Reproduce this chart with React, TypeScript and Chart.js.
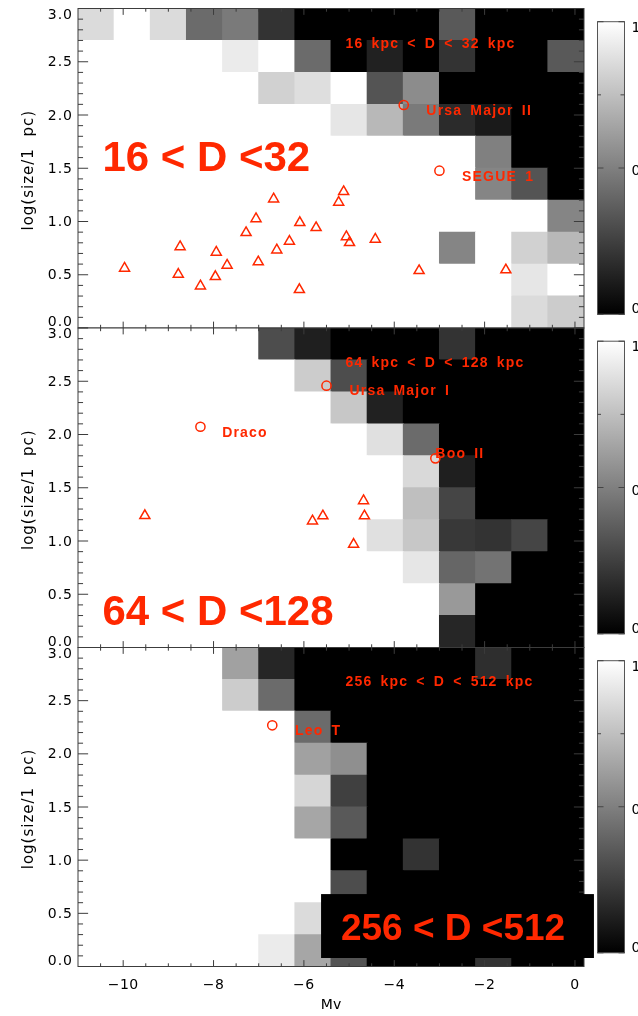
import React, { useEffect, useRef } from 'react';
import { Chart, registerables } from 'chart.js';

Chart.register(...registerables);

// ---------------- data ----------------
// Mv bins (0.8 mag wide) and log(size) bins (0.3 dex wide) of the detection-fraction map
const mvBinCentres = ['-10.6', '-9.8', '-9.0', '-8.2', '-7.4', '-6.6', '-5.8', '-5.0', '-4.2', '-3.4', '-2.6', '-1.8', '-1.0', '-0.2'];
const sizeBinEdges = [0, 0.3, 0.6, 0.9, 1.2, 1.5, 1.8, 2.1, 2.4, 2.7, 3.0];

// detection fraction, rows from top (2.7-3.0) down to bottom (0.0-0.3)
const detect16to32 = [
  [0.86, 1, 0.86, 0.42, 0.48, 0.2, 0, 0, 0, 0, 0.35, 0, 0, 0],
  [1, 1, 1, 1, 0.92, 1, 0.42, 0, 0.13, 0, 0.2, 0, 0, 0.35],
  [1, 1, 1, 1, 1, 0.82, 0.87, 1, 0.33, 0.55, 0, 0, 0, 0],
  [1, 1, 1, 1, 1, 1, 1, 0.9, 0.72, 0.48, 0.17, 0.1, 0, 0],
  [1, 1, 1, 1, 1, 1, 1, 1, 1, 1, 1, 0.5, 0, 0],
  [1, 1, 1, 1, 1, 1, 1, 1, 1, 1, 1, 0.52, 0.33, 0],
  [1, 1, 1, 1, 1, 1, 1, 1, 1, 1, 1, 1, 1, 0.52],
  [1, 1, 1, 1, 1, 1, 1, 1, 1, 1, 0.52, 1, 0.82, 0.72],
  [1, 1, 1, 1, 1, 1, 1, 1, 1, 1, 1, 1, 0.9, 1],
  [1, 1, 1, 1, 1, 1, 1, 1, 1, 1, 1, 1, 0.86, 0.8],
];
const detect64to128 = [
  [1, 1, 1, 1, 1, 0.3, 0.12, 0, 0, 0, 0.2, 0, 0, 0],
  [1, 1, 1, 1, 1, 1, 0.8, 0.3, 0, 0, 0, 0, 0, 0],
  [1, 1, 1, 1, 1, 1, 1, 0.78, 0.13, 0, 0, 0, 0, 0],
  [1, 1, 1, 1, 1, 1, 1, 1, 0.88, 0.42, 0, 0, 0, 0],
  [1, 1, 1, 1, 1, 1, 1, 1, 1, 0.85, 0.12, 0, 0, 0],
  [1, 1, 1, 1, 1, 1, 1, 1, 1, 0.75, 0.27, 0, 0, 0],
  [1, 1, 1, 1, 1, 1, 1, 1, 0.88, 0.78, 0.22, 0.2, 0.27, 0],
  [1, 1, 1, 1, 1, 1, 1, 1, 1, 0.9, 0.4, 0.45, 0, 0],
  [1, 1, 1, 1, 1, 1, 1, 1, 1, 1, 0.6, 0, 0, 0],
  [1, 1, 1, 1, 1, 1, 1, 1, 1, 1, 0.15, 0, 0, 0],
];
const detect256to512 = [
  [1, 1, 1, 1, 0.63, 0.15, 0, 0, 0, 0, 0, 0.18, 0, 0],
  [1, 1, 1, 1, 0.8, 0.42, 0, 0, 0, 0, 0, 0, 0, 0],
  [1, 1, 1, 1, 1, 1, 0.42, 0, 0, 0, 0, 0, 0, 0],
  [1, 1, 1, 1, 1, 1, 0.63, 0.56, 0, 0, 0, 0, 0, 0],
  [1, 1, 1, 1, 1, 1, 0.84, 0.25, 0, 0, 0, 0, 0, 0],
  [1, 1, 1, 1, 1, 1, 0.65, 0.35, 0, 0, 0, 0, 0, 0],
  [1, 1, 1, 1, 1, 1, 1, 0, 0, 0.2, 0, 0, 0, 0],
  [1, 1, 1, 1, 1, 1, 1, 0.3, 0, 0, 0, 0, 0, 0],
  [1, 1, 1, 1, 1, 1, 0.86, 0, 0, 0, 0, 0, 0, 0],
  [1, 1, 1, 1, 1, 0.92, 0.65, 0.33, 0, 0, 0, 0.2, 0, 0],
];

// known satellites (triangles) and named objects (circles)
const tri16Mv = [-9.97, -8.74, -8.78, -8.29, -7.96, -7.94, -7.70, -7.28, -7.06, -7.01, -6.67, -6.60, -6.32, -6.09, -6.10, -5.73, -5.12, -5.23, -5.06, -4.99, -4.42, -3.45, -1.53];
const tri16Size = [0.561, 0.763, 0.504, 0.394, 0.482, 0.711, 0.589, 0.895, 1.026, 0.620, 1.211, 0.732, 0.814, 0.989, 0.360, 0.942, 1.280, 1.180, 0.857, 0.801, 0.833, 0.538, 0.545];
const circ16Mv = [-3.79, -3.0];
const circ16Size = [2.094, 1.477];
const circ16Names = ['Ursa Major II', 'SEGUE 1'];

const tri64Mv = [-9.52, -5.81, -5.58, -4.68, -4.66, -4.90];
const tri64Size = [1.238, 1.188, 1.235, 1.378, 1.235, 0.969];
const circ64Mv = [-8.29, -5.50, -3.09];
const circ64Size = [2.073, 2.458, 1.776];
const circ64Names = ['Draco', 'Ursa Major I', 'Boo II'];

const tri256Mv: number[] = [];
const tri256Size: number[] = [];
const circ256Mv = [-6.70];
const circ256Size = [2.268];
const circ256Names = ['Leo T'];

const rangeTitles = ['16 kpc < D < 32 kpc', '64 kpc < D < 128 kpc', '256 kpc < D < 512 kpc'];
const bigTitles = ['16 < D <32', '64 < D <128', '256 < D <512'];

const xMajorTicks = [-10, -8, -6, -4, -2, 0];
const xTickLabels = ['\u221210', '\u22128', '\u22126', '\u22124', '\u22122', '0'];
const xMinorTicks = [-10.5, -9.5, -9, -8.5, -7.5, -7, -6.5, -5.5, -5, -4.5, -3.5, -3, -2.5, -1.5, -1, -0.5];
const yMajorTicks = [0, 0.5, 1, 1.5, 2, 2.5, 3];
const yTickLabels = ['0.0', '0.5', '1.0', '1.5', '2.0', '2.5', '3.0'];
const yMinorTicks = [0.1, 0.2, 0.3, 0.4, 0.6, 0.7, 0.8, 0.9, 1.1, 1.2, 1.3, 1.4, 1.6, 1.7, 1.8, 1.9, 2.1, 2.2, 2.3, 2.4, 2.6, 2.7, 2.8, 2.9];
const cbTicks = [0, 0.5, 1];
const cbTickLabels = ['0.0', '0.5', '1.0'];
const cbMinorTicks = [0.25, 0.75];
const xTitle = 'Mv';
const yTitle = 'log(size/1  pc)';

// ---------------- layout / style ----------------
const W = 638;
const H = 1016;
const PLOT_LEFT = 78;
const PLOT_RIGHT = 584;
const PANEL_TOP = [8.5, 328, 647.5];
const PANEL_BOTTOM = [328, 647.5, 966.5];
const RED = 'rgb(255,40,0)';
const AXIS = '#3c3c3c';
const TICK_FONT = '14px "DejaVu Sans", sans-serif';
const NAME_FONT = 'bold 14px "Liberation Sans", Arial, sans-serif';
const NAME_OFFSETS = [
  [[22.6, 6], [22.6, 6]],
  [[21.7, 6], [23, 5.5], [0, -4]],
  [[22.7, 6]],
];
const RANGE_TITLE_AT = { mv: -5.08, size: 2.67 };
const BIG_LAYOUT = [
  { mv: -10.46, size: 1.47, px: 42, box: null as null | number[] },
  { mv: -10.46, size: 0.211, px: 42, box: null as null | number[] },
  { mv: -5.18, size: 0.249, px: 37, box: [-5.62, 0.42, 0.08, 0.681] },
];

const detections = [detect16to32, detect64to128, detect256to512];
const triMv = [tri16Mv, tri64Mv, tri256Mv];
const triSize = [tri16Size, tri64Size, tri256Size];
const circMv = [circ16Mv, circ64Mv, circ256Mv];
const circSize = [circ16Size, circ64Size, circ256Size];
const circNames = [circ16Names, circ64Names, circ256Names];

function gray(v: number) {
  const g = Math.round(Math.max(0, Math.min(1, v)) * 255);
  return `rgb(${g},${g},${g})`;
}

function setSpacing(ctx: any, letter: string, word: string) {
  try {
    ctx.letterSpacing = letter;
    ctx.wordSpacing = word;
  } catch (e) {
    /* ignore */
  }
}

function makePlugin(i: number) {
  return {
    id: 'idlPanel' + i,
    afterDatasetsDraw(chart: any) {
      const ctx = chart.ctx as CanvasRenderingContext2D;
      const xs = chart.scales.x;
      const ys = chart.scales.y;
      const { left, right, top, bottom } = chart.chartArea;
      ctx.save();

      // frame
      ctx.strokeStyle = AXIS;
      ctx.lineWidth = 1;
      ctx.strokeRect(left, top, right - left, bottom - top);

      // ticks (inward, on all four sides)
      const xMaj = (bottom - top) * 0.02;
      const yMaj = (right - left) * 0.02;
      ctx.beginPath();
      const xTick = (v: number, len: number) => {
        const px = xs.getPixelForValue(v);
        ctx.moveTo(px, bottom);
        ctx.lineTo(px, bottom - len);
        ctx.moveTo(px, top);
        ctx.lineTo(px, top + len);
      };
      const yTick = (v: number, len: number) => {
        const py = ys.getPixelForValue(v);
        ctx.moveTo(left, py);
        ctx.lineTo(left + len, py);
        ctx.moveTo(right, py);
        ctx.lineTo(right - len, py);
      };
      xMajorTicks.forEach((v) => xTick(v, xMaj));
      xMinorTicks.forEach((v) => xTick(v, xMaj / 2));
      yMajorTicks.forEach((v) => yTick(v, yMaj));
      yMinorTicks.forEach((v) => yTick(v, yMaj / 2));
      ctx.stroke();

      // y tick labels
      ctx.fillStyle = '#000';
      ctx.font = TICK_FONT;
      setSpacing(ctx, '1px', '0px');
      ctx.textAlign = 'right';
      ctx.textBaseline = 'middle';
      yMajorTicks.forEach((v, k) => {
        let py = ys.getPixelForValue(v) + 1;
        if (k === 0) py = bottom - 5.5;
        if (k === yMajorTicks.length - 1) py = top + 6.5;
        ctx.fillText(yTickLabels[k], left - 5, py);
      });

      // y title
      ctx.save();
      ctx.translate(29, (top + bottom) / 2 + 2);
      ctx.rotate(-Math.PI / 2);
      ctx.font = '15px "DejaVu Sans", sans-serif';
      ctx.textAlign = 'center';
      ctx.textBaseline = 'middle';
      ctx.fillText(yTitle, 0, 0);
      ctx.restore();

      // x tick labels + title on the bottom panel only
      if (i === 2) {
        ctx.textAlign = 'center';
        ctx.textBaseline = 'middle';
        setSpacing(ctx, '0.5px', '0px');
        xMajorTicks.forEach((v, k) => {
          ctx.fillText(xTickLabels[k], xs.getPixelForValue(v), bottom + 18.5);
        });
        setSpacing(ctx, '0px', '0px');
        ctx.fillText(xTitle, (left + right) / 2, bottom + 38.5);
      }

      // colour bar
      const cbL = right + 13.5;
      const cbR = right + 40.5;
      const cbT = top + 13.2;
      const cbB = bottom - 13.7;
      const cbPix = (v: number) => cbB - v * (cbB - cbT);
      const grad = ctx.createLinearGradient(0, cbB, 0, cbT);
      grad.addColorStop(0, '#000');
      grad.addColorStop(1, '#fff');
      ctx.fillStyle = grad;
      ctx.fillRect(cbL, cbT, cbR - cbL, cbB - cbT);
      ctx.strokeStyle = '#555';
      ctx.lineWidth = 1;
      ctx.strokeRect(cbL, cbT, cbR - cbL, cbB - cbT);
      ctx.beginPath();
      cbTicks.forEach((v) => {
        const py = cbPix(v);
        ctx.moveTo(cbL, py); ctx.lineTo(cbL + 6, py);
        ctx.moveTo(cbR, py); ctx.lineTo(cbR - 6, py);
      });
      cbMinorTicks.forEach((v) => {
        const py = cbPix(v);
        ctx.moveTo(cbL, py); ctx.lineTo(cbL + 3.5, py);
        ctx.moveTo(cbR, py); ctx.lineTo(cbR - 4, py);
      });
      ctx.strokeStyle = '#444';
      ctx.stroke();
      ctx.fillStyle = '#000';
      ctx.font = TICK_FONT;
      setSpacing(ctx, '1px', '0px');
      ctx.textAlign = 'left';
      ctx.textBaseline = 'middle';
      cbTicks.forEach((v, k) => {
        let py = cbPix(v) + 3.5;
        if (k === 0) py = cbB - 4.5;
        if (k === cbTicks.length - 1) py = cbT + 6.3;
        ctx.fillText(cbTickLabels[k], cbR + 7, py);
      });

      // annotations
      ctx.fillStyle = RED;
      ctx.font = NAME_FONT;
      setSpacing(ctx, '1.2px', '3px');
      ctx.textAlign = 'left';
      ctx.textBaseline = 'middle';
      ctx.fillText(rangeTitles[i], xs.getPixelForValue(RANGE_TITLE_AT.mv), ys.getPixelForValue(RANGE_TITLE_AT.size));
      circNames[i].forEach((name, k) => {
        const [dx, dy] = NAME_OFFSETS[i][k];
        ctx.fillText(name, xs.getPixelForValue(circMv[i][k]) + dx, ys.getPixelForValue(circSize[i][k]) + dy);
      });

      // big distance label
      const big = BIG_LAYOUT[i];
      setSpacing(ctx, '0px', '0px');
      if (big.box) {
        const [x0, x1, y0, y1] = big.box;
        const bx0 = xs.getPixelForValue(x0);
        const bx1 = xs.getPixelForValue(x1);
        const by0 = ys.getPixelForValue(y1);
        const by1 = ys.getPixelForValue(y0);
        ctx.fillStyle = '#000';
        ctx.fillRect(bx0, by0, bx1 - bx0, by1 - by0);
      }
      ctx.fillStyle = RED;
      ctx.font = `bold ${big.px}px "Liberation Sans", Arial, sans-serif`;
      ctx.textBaseline = 'alphabetic';
      ctx.fillText(bigTitles[i], xs.getPixelForValue(big.mv), ys.getPixelForValue(big.size));

      ctx.restore();
    },
  };
}

function buildConfig(i: number): any {
  const cells = detections[i];
  const datasets: any[] = [];
  for (let r = 0; r < sizeBinEdges.length - 1; r++) {
    const rowVals = cells[cells.length - 1 - r];
    datasets.push({
      type: 'bar',
      xAxisID: 'xc',
      yAxisID: 'y',
      data: rowVals.map(() => [sizeBinEdges[r], sizeBinEdges[r + 1]]),
      backgroundColor: rowVals.map(gray),
      borderWidth: 0,
      grouped: false,
      barPercentage: 1,
      categoryPercentage: 1,
      inflateAmount: 0.45,
      order: 2,
    });
  }
  datasets.push({
    type: 'scatter',
    xAxisID: 'x',
    yAxisID: 'y',
    data: triMv[i].map((x, k) => ({ x, y: triSize[i][k] })),
    pointStyle: 'triangle',
    pointRadius: 5.8,
    pointBorderWidth: 1.5,
    pointBorderColor: RED,
    pointBackgroundColor: 'rgba(0,0,0,0)',
    showLine: false,
    order: 1,
  });
  datasets.push({
    type: 'scatter',
    xAxisID: 'x',
    yAxisID: 'y',
    data: circMv[i].map((x, k) => ({ x, y: circSize[i][k] })),
    pointStyle: 'circle',
    pointRadius: 4.6,
    pointBorderWidth: 1.5,
    pointBorderColor: RED,
    pointBackgroundColor: 'rgba(0,0,0,0)',
    showLine: false,
    order: 0,
  });

  return {
    type: 'bar',
    data: { labels: mvBinCentres, datasets },
    options: {
      animation: false,
      responsive: false,
      devicePixelRatio: 1,
      events: [],
      layout: {
        padding: {
          left: PLOT_LEFT,
          right: W - PLOT_RIGHT,
          top: PANEL_TOP[i],
          bottom: H - PANEL_BOTTOM[i],
        },
      },
      plugins: { legend: { display: false }, tooltip: { enabled: false }, title: { display: false } },
      scales: {
        xc: { type: 'category', labels: mvBinCentres, offset: true, display: false, grid: { display: false } },
        x: { type: 'linear', min: -11, max: 0.2, offset: false, display: false, grid: { display: false } },
        y: { type: 'linear', min: 0, max: 3, display: false, grid: { display: false } },
      },
    },
    plugins: [makePlugin(i)],
  };
}

export default function App() {
  const r0 = useRef<HTMLCanvasElement>(null);
  const r1 = useRef<HTMLCanvasElement>(null);
  const r2 = useRef<HTMLCanvasElement>(null);
  const refs = [r0, r1, r2];

  useEffect(() => {
    const charts = refs.map((r, i) => new Chart(r.current as HTMLCanvasElement, buildConfig(i)));
    return () => charts.forEach((c) => c.destroy());
  }, []);

  return (
    <div style={{ position: 'absolute', left: 0, top: 0, width: W, height: H, background: '#fff', overflow: 'hidden' }}>
      {refs.map((r, i) => (
        <canvas key={i} ref={r} width={W} height={H} style={{ position: 'absolute', left: 0, top: 0 }} />
      ))}
    </div>
  );
}
